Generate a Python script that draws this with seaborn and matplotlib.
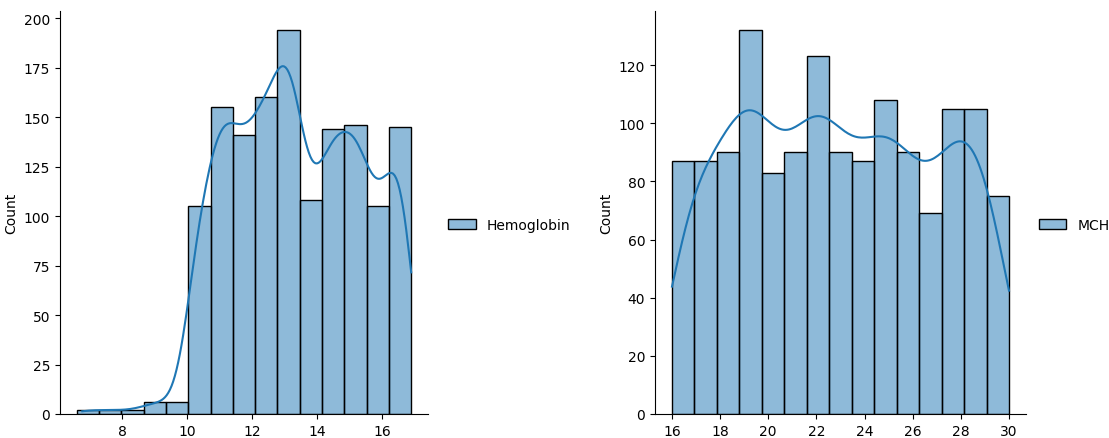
import numpy as np
import pandas as pd
import matplotlib
matplotlib.use("Agg")
import matplotlib.pyplot as plt
import seaborn as sns

# Hemoglobin: 15 bins between 6.6 and 16.9, counts
hb_range = (6.6, 16.9)
hb_counts = [2, 2, 2, 6, 6, 105, 155, 141, 160, 194, 108, 144, 146, 105, 145]

# MCH: 15 bins between 16 and 30, counts
mch_range = (16.0, 30.0)
mch_counts = [87, 87, 90, 132, 83, 90, 123, 90, 87, 108, 90, 69, 105, 105, 75]


def expand(rng, counts):
    """Turn bin counts into observations spread evenly inside each bin."""
    edges = np.linspace(rng[0], rng[1], len(counts) + 1)
    return np.concatenate([
        lo + (np.arange(n) + 0.5) * (hi - lo) / n
        for lo, hi, n in zip(edges[:-1], edges[1:], counts)
    ])


df_hb = pd.DataFrame({"Hemoglobin": expand(hb_range, hb_counts)})
df_mch = pd.DataFrame({"MCH": expand(mch_range, mch_counts)})

fig = plt.figure(figsize=(11.09, 4.39), dpi=100)
ax1 = fig.add_axes([60 / 1109, 1 - 415 / 439, 368 / 1109, 403 / 439])
ax2 = fig.add_axes([655 / 1109, 1 - 415 / 439, 371 / 1109, 403 / 439])

sns.histplot(data=df_hb, bins=15, binrange=hb_range, kde=True,
             kde_kws={"bw_adjust": 0.8}, ax=ax1)
sns.histplot(data=df_mch, bins=15, binrange=mch_range, kde=True, ax=ax2)

for ax in (ax1, ax2):
    ax.spines["top"].set_visible(False)
    ax.spines["right"].set_visible(False)
    ax.set_xlabel("")

sns.move_legend(ax1, "center left", bbox_to_anchor=(1.021, 0.47), frameon=False, title=None)
sns.move_legend(ax2, "center left", bbox_to_anchor=(1.0, 0.47), frameon=False, title=None)

fig.savefig("out.png", dpi=100)
